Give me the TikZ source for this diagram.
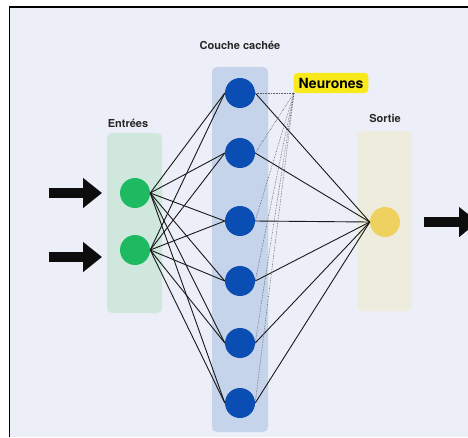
\documentclass[tikz,border=0pt]{standalone}
\usepackage{fontspec}
\setmainfont{TeX Gyre Heros}
\usetikzlibrary{arrows.meta}
\definecolor{bg}{HTML}{ECEFF7}
\definecolor{incol}{HTML}{CFE7DC}
\definecolor{hidcol}{HTML}{C6D4EB}
\definecolor{outcol}{HTML}{EEEDDD}
\definecolor{ingreen}{HTML}{1DBA62}
\definecolor{hidblue}{HTML}{0A4DB3}
\definecolor{outyel}{HTML}{EFD160}
\definecolor{labyel}{HTML}{F8EA1A}
\definecolor{txt}{HTML}{262626}
\tikzset{
  column/.style={rounded corners=5pt, draw=none},
  neuron/.style={circle, minimum size=30pt, inner sep=0pt, draw=none},
  layerlabel/.style={font=\bfseries\fontsize{11}{13}\selectfont, text=txt},
  link/.style={black!90, line width=0.9pt},
  pointer/.style={gray!70!black, line width=0.6pt, densely dotted},
  bigarrow/.style={-{Triangle[length=19pt,width=29pt]}, line width=10pt, black!95},
}
\begin{document}
\begin{tikzpicture}[x=1pt,y=-1pt]
\useasboundingbox (0,0) rectangle (468,437);
\fill[white] (0,0) rectangle (468,437);
\fill[bg] (9,7) rectangle (468,437);
\draw[black, line width=1.2pt] (9.5,437) -- (9.5,7) -- (468,7);
% columns
\fill[incol, column] (107,133) rectangle (162,313);
\fill[hidcol, column] (212,67) rectangle (268,432);
\fill[outcol, column] (357,131) rectangle (412,311);
% labels
\node[layerlabel] (lin) at (128,123) {Entrées};
\node[layerlabel] (lhid) at (240,45) {Couche cachée};
\node[layerlabel] (lout) at (385,118) {Sortie};
% neurons
\node[neuron, fill=ingreen] (i1) at (135,193) {};
\node[neuron, fill=ingreen] (i2) at (135,250) {};
\node[neuron, fill=hidblue] (h1) at (240,93) {};
\node[neuron, fill=hidblue] (h2) at (240,153) {};
\node[neuron, fill=hidblue] (h3) at (240,221) {};
\node[neuron, fill=hidblue] (h4) at (240,281) {};
\node[neuron, fill=hidblue] (h5) at (240,343) {};
\node[neuron, fill=hidblue] (h6) at (240,403) {};
\node[neuron, fill=outyel] (o) at (385,222) {};
% links
\foreach \i in {i1,i2}{
  \foreach \h in {h1,h2,h3,h4,h5,h6}{
    \draw[link] (\i.east) -- (\h.west);
  }
}
\foreach \h in {h1,h2,h3,h4,h5,h6}{
  \draw[link] (\h.east) -- (o.west);
}
% Neurones label
\node[fill=labyel, rounded corners=4pt, inner xsep=5pt, inner ysep=5pt,
      font=\bfseries\fontsize{14}{16}\selectfont, text=black] (neur) at (331,83) {Neurones};
\coordinate (np) at (294,93);
\foreach \h in {h1,h2,h3,h4,h5,h6}{
  \draw[pointer] (np) -- (\h.east);
}
% input/output arrows
\coordinate (a1s) at (49,193);
\coordinate (a1e) at (102,193);
\coordinate (a2s) at (49,257);
\coordinate (a2e) at (102,257);
\coordinate (a3s) at (424,222);
\coordinate (a3e) at (478,222);
\draw[bigarrow] (a1s) -- (a1e);
\draw[bigarrow] (a2s) -- (a2e);
\begin{scope}
\clip (0,0) rectangle (468,437);
\draw[bigarrow] (a3s) -- (a3e);
\end{scope}
\end{tikzpicture}
\end{document}
